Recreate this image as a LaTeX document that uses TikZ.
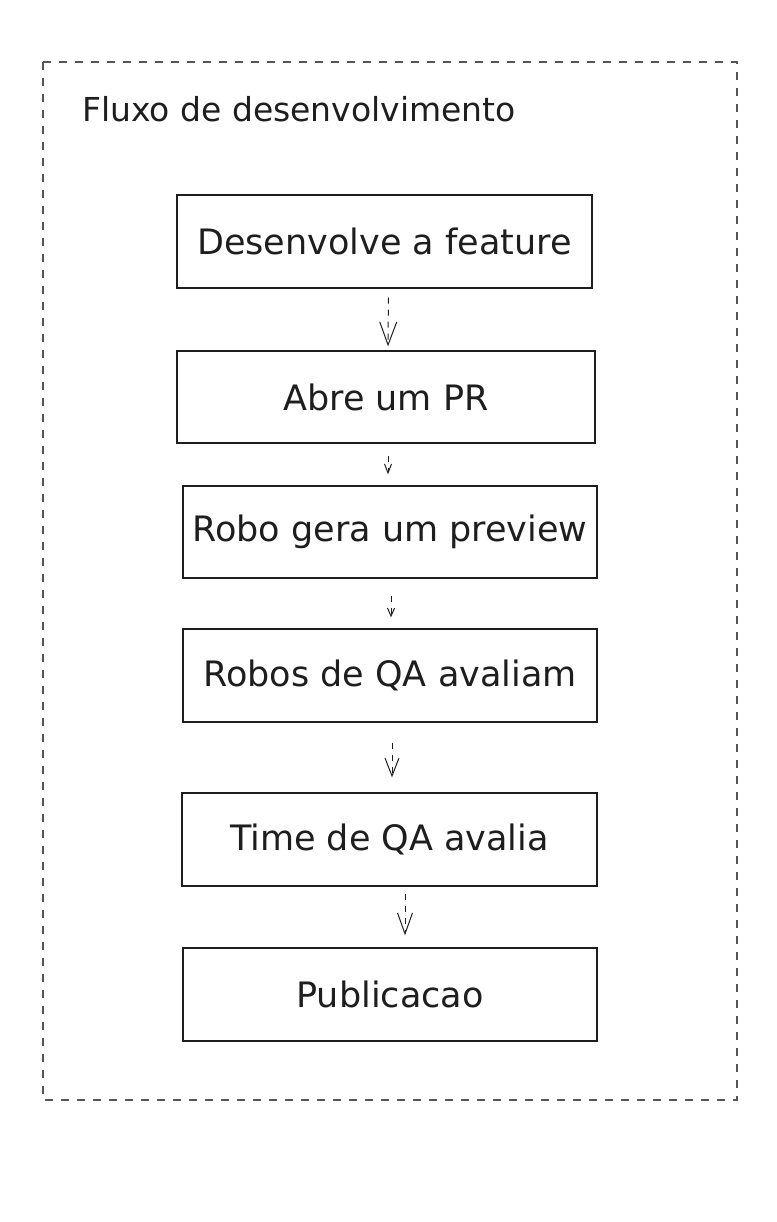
\documentclass[tikz,border=0pt]{standalone}
\usepackage{fontspec}
\setmainfont{DejaVu Sans}
\usetikzlibrary{arrows.meta, calc, positioning}
\definecolor{inkGray}{HTML}{1E1E1E}
\definecolor{frameGray}{HTML}{555555}
\tikzset{
    flowBox/.style={rectangle, draw=inkGray, line width=1.3pt, fill=white, minimum width=414pt, minimum height=93pt, inner sep=0pt, font=\fontsize{35}{42}\selectfont, text=inkGray},
    flowEdge/.style={draw=inkGray, line width=1pt, dash pattern=on 6pt off 6pt},
    frameLine/.style={draw=frameGray, line width=1.5pt, dash pattern=on 8pt off 8pt},
    titleText/.style={font=\fontsize{33}{40}\selectfont, text=inkGray, inner sep=0pt, anchor=base west},
}
\newcommand{\drawFlow}[5][]{
    \draw[flowEdge, -{Straight Barb[length=#4, width=#5, line width=1pt]}, #1] (#2) -- (#3);
}

\begin{document}
\begin{tikzpicture}[x=1pt, y=-1pt]
    \useasboundingbox (0,0) rectangle (776,1222);

        \draw[frameLine] (43,62) rectangle (737,1100);
        \node[titleText] (titulo) at (82,122) {Fluxo de desenvolvimento};

        \node[flowBox, minimum width=415pt] (desenv) at (384.5,241.5) {Desenvolve a feature};
        \node[flowBox, minimum width=418pt, minimum height=92pt] (abrePR) at (386,397) {Abre um PR};
        \node[flowBox, minimum height=92pt] (preview) at (390,532) {Robo gera um preview};
        \node[flowBox] (roboQA) at (390,675.5) {Robos de QA avaliam};
        \node[flowBox, minimum width=415pt] (timeQA) at (389.5,839.5) {Time de QA avalia};
        \node[flowBox] (publica) at (390,994.5) {Publicacao};

        \drawFlow[shorten <=9pt, shorten >=4pt]{$(desenv.south)+(4,0)$}{$(abrePR.north)+(2,0)$}{23pt}{17pt}
        \drawFlow[shorten <=12pt, shorten >=11pt]{$(abrePR.south)+(2,0)$}{$(preview.north)+(-2,0)$}{9pt}{7pt}
        \drawFlow[shorten <=17pt, shorten >=11pt]{$(preview.south)+(1,0)$}{$(roboQA.north)+(1,0)$}{8pt}{7pt}
        \drawFlow[shorten <=20pt, shorten >=15pt]{$(roboQA.south)+(2,0)$}{$(timeQA.north)+(2.5,0)$}{18pt}{14pt}
        \drawFlow[shorten <=7pt, shorten >=12pt]{$(timeQA.south)+(15.5,0)$}{$(publica.north)+(15,0)$}{21pt}{15pt}

    \end{tikzpicture}
\end{document}
